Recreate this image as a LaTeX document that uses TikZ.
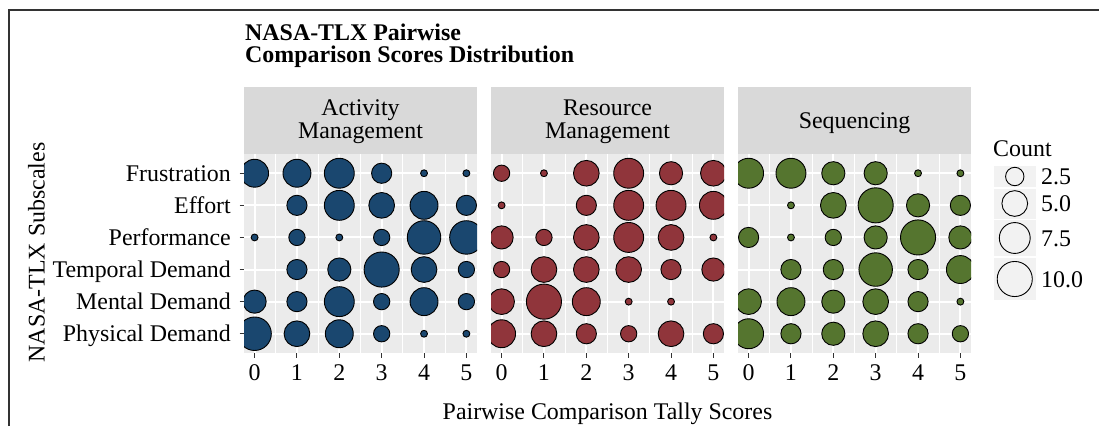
\documentclass[tikz,border=0pt]{standalone}
\usepackage{fontspec}
\setmainfont{Liberation Serif}
\definecolor{navy}{HTML}{1A476F}
\definecolor{maroon}{HTML}{90353B}
\definecolor{fgreen}{HTML}{55752F}
\definecolor{panelbg}{HTML}{EBEBEB}
\definecolor{stripbg}{HTML}{D9D9D9}
\definecolor{keybg}{HTML}{F2F2F2}
\definecolor{tickc}{HTML}{333333}
\tikzset{
  txt/.style={inner sep=0pt, font=\fontsize{23.9}{23.9}\selectfont},
  ticklab/.style={txt, anchor=base},
  minorgrid/.style={white, line width=1pt},
  majorgrid/.style={white, line width=2pt},
  tickline/.style={tickc, line width=1pt},
  bubble/.style={draw=black, line width=0.9pt},
  frameline/.style={draw=tickc, line width=1.3pt}
}
\newcommand\drawpanel[4]{%
  \fill[panelbg] (#1,154) rectangle ++(233,199);
  \foreach \c in {0,...,4} \draw[minorgrid] ({#1+(\c+0.75)*42.36},154) -- ++(0,199);
  \foreach \c in {0,...,5} {
    \draw[majorgrid] ({#1+(\c+0.25)*42.36},154) -- ++(0,199);
    \draw[tickline] ({#1+(\c+0.25)*42.36},353) -- ++(0,5);
    \node[ticklab] (tick-#1-\c) at ({#1+(\c+0.25)*42.36},380) {\c};
  }
  \foreach \r in {1,...,6} \draw[majorgrid] (#1,{353-(\r-0.4)*32.1}) -- ++(233,0);
  \begin{scope}
    \clip (#1,154) rectangle ++(233,199);
    \foreach \r/\vals in {#4} {
      \foreach \v [count=\c from 0] in \vals {
        \ifnum\v>0
          \pgfmathsetmacro\rr{(7.8+28.2*sqrt((\v-1)/9))/2-0.45}
          \filldraw[bubble, fill=#2] ({#1+(\c+0.25)*42.36},{353-(\r-0.4)*32.1}) circle[radius=\rr pt];
        \fi
      }
    }
  \end{scope}
  \fill[stripbg] (#1,87) rectangle ++(233,67);
}
\begin{document}
\begin{tikzpicture}[x=1pt,y=-1pt]
\useasboundingbox (0,0) rectangle (1099,426);
\draw[frameline] (9,426) -- (9,10) -- (1099,10);
% title
\node[txt, anchor=base west, font=\fontsize{23.9}{23.9}\selectfont\bfseries] (title1) at (245,40) {NASA-TLX Pairwise};
\node[txt, anchor=base west, font=\fontsize{23.9}{23.9}\selectfont\bfseries] (title2) at (245,62) {Comparison Scores Distribution};
% panels
\drawpanel{244}{navy}{A}{1/{9,5,6,2,1,1}, 2/{4,3,7,2,6,2}, 3/{0,3,4,10,5,2}, 4/{1,2,1,2,9,9}, 5/{0,3,7,5,6,3}, 6/{6,6,7,3,1,1}}
\drawpanel{491}{maroon}{B}{1/{6,5,3,2,5,3}, 2/{5,10,6,1,1,0}, 3/{2,5,5,5,3,4}, 4/{4,2,5,7,5,1}, 5/{1,0,3,7,7,6}, 6/{2,1,5,7,4,5}}
\drawpanel{738}{fgreen}{C}{1/{7,3,4,5,3,2}, 2/{5,6,4,5,3,1}, 3/{0,3,3,9,3,6}, 4/{3,1,2,4,10,4}, 5/{0,1,5,10,4,3}, 6/{7,7,4,4,1,1}}
% strip labels
\node[txt, anchor=base] (sA1) at (360.5,115) {Activity};
\node[txt, anchor=base] (sA2) at (360.5,138.5) {Management};
\node[txt, anchor=base] (sB1) at (607.5,115) {Resource};
\node[txt, anchor=base] (sB2) at (607.5,138.5) {Management};
\node[txt, anchor=base] (sC1) at (854.5,128.3) {Sequencing};
% y axis labels and ticks
\foreach \r/\lab in {1/Physical Demand, 2/Mental Demand, 3/Temporal Demand, 4/Performance, 5/Effort, 6/Frustration} {
  \draw[tickline] (239.5,{353-(\r-0.4)*32.1}) -- (244,{353-(\r-0.4)*32.1});
  \node[txt, anchor=base east] (row\r) at (231,{353-(\r-0.4)*32.1+8}) {\lab};
}
% axis titles
\node[txt, anchor=base, rotate=90] (ytitle) at (44.5,252.5) {NASA-TLX Subscales};
\node[txt, anchor=base] (xtitle) at (607.5,419) {Pairwise Comparison Tally Scores};
% legend
\node[txt, anchor=base west] (ltitle) at (993,156) {Count};
\foreach \k/\ya/\yb/\val/\lab in {1/166/187/2.5/2.5, 2/188.5/218.5/5/5.0, 3/220/256/7.5/7.5, 4/258/300/10/10.0} {
  \fill[keybg] (993.5,\ya) rectangle (1036,\yb);
  \pgfmathsetmacro\rr{(7.8+28.2*sqrt((\val-1)/9))/2-0.45}
  \draw[bubble] (1014.75,{(\ya+\yb)/2}) circle[radius=\rr pt];
  \node[txt, anchor=base west] (lk\k) at (1041,{(\ya+\yb)/2+8}) {\lab};
}
\end{tikzpicture}
\end{document}
